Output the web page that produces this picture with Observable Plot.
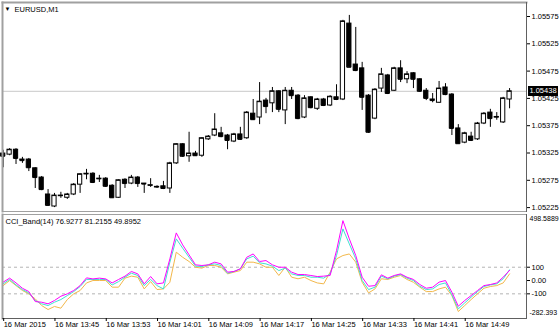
<!DOCTYPE html>
<html><head><meta charset="utf-8">
<script src="https://cdn.jsdelivr.net/npm/d3@7"></script>
<script src="https://cdn.jsdelivr.net/npm/@observablehq/plot@0.6"></script>
<style>
body{margin:0;background:#fff;}
#wrap{position:relative;width:560px;height:331px;overflow:hidden;font-family:"Liberation Sans",Arial,sans-serif;background:#fff;}
#wrap svg{position:absolute;left:0;}
#tag{position:absolute;left:528px;width:30px;height:10px;background:#000;color:#fff;font-size:7.5px;line-height:10px;text-align:center;}
</style></head><body><div id="wrap"></div>
<script>
const symbolLabel = "EURUSD,M1";
const indicatorName = "CCI_Band(14)";
const indicatorValues = [76.9277, 81.2155, 49.8952];

const opens = [1.05324,1.05322,1.05331,1.05313,1.05313,1.05297,1.05280,1.05249,1.05227,1.05246,
1.05243,1.05249,1.05267,1.05286,1.05287,1.05277,1.05278,1.05265,1.05243,1.05276,
1.05269,1.05280,1.05269,1.05265,1.05262,1.05264,1.05260,1.05306,1.05341,1.05319,
1.05324,1.05320,1.05350,1.05357,1.05361,1.05357,1.05346,1.05359,1.05352,1.05397,
1.05390,1.05421,1.05416,1.05438,1.05403,1.05439,1.05430,1.05390,1.05427,1.05406,
1.05423,1.05412,1.05427,1.05423,1.05562,1.05487,1.05480,1.05430,1.05388,1.05443,
1.05467,1.05439,1.05480,1.05460,1.05471,1.05460,1.05439,1.05423,1.05417,1.05445,
1.05432,1.05370,1.05344,1.05355,1.05350,1.05379,1.05399,1.05390,1.05381,1.05423];
const highs = [1.05330,1.05333,1.05333,1.05317,1.05315,1.05298,1.05282,1.05258,1.05251,1.05253,
1.05251,1.05269,1.05287,1.05295,1.05289,1.05284,1.05280,1.05267,1.05276,1.05278,
1.05284,1.05282,1.05269,1.05278,1.05265,1.05273,1.05308,1.05342,1.05342,1.05363,
1.05328,1.05353,1.05357,1.05397,1.05372,1.05359,1.05361,1.05372,1.05401,1.05423,
1.05454,1.05425,1.05445,1.05439,1.05445,1.05445,1.05432,1.05430,1.05428,1.05425,
1.05425,1.05430,1.05450,1.05568,1.05577,1.05555,1.05491,1.05432,1.05443,1.05480,
1.05469,1.05482,1.05494,1.05474,1.05472,1.05461,1.05443,1.05434,1.05456,1.05452,
1.05434,1.05377,1.05363,1.05363,1.05381,1.05399,1.05405,1.05399,1.05427,1.05443];
const lows = [1.05298,1.05320,1.05304,1.05306,1.05291,1.05260,1.05256,1.05229,1.05225,1.05242,
1.05240,1.05247,1.05251,1.05276,1.05269,1.05271,1.05262,1.05243,1.05242,1.05260,
1.05267,1.05262,1.05251,1.05262,1.05260,1.05258,1.05251,1.05304,1.05317,1.05308,
1.05319,1.05317,1.05348,1.05355,1.05353,1.05331,1.05344,1.05348,1.05350,1.05385,
1.05377,1.05397,1.05399,1.05399,1.05377,1.05423,1.05386,1.05388,1.05406,1.05403,
1.05410,1.05410,1.05421,1.05421,1.05482,1.05474,1.05403,1.05361,1.05386,1.05436,
1.05432,1.05438,1.05454,1.05452,1.05443,1.05436,1.05421,1.05417,1.05416,1.05430,
1.05357,1.05342,1.05342,1.05346,1.05348,1.05377,1.05372,1.05385,1.05379,1.05406];
const closes = [1.05319,1.05331,1.05315,1.05311,1.05298,1.05280,1.05258,1.05229,1.05247,1.05247,
1.05249,1.05267,1.05286,1.05287,1.05271,1.05278,1.05264,1.05243,1.05275,1.05269,
1.05280,1.05269,1.05268,1.05266,1.05263,1.05260,1.05306,1.05341,1.05319,1.05324,
1.05320,1.05352,1.05355,1.05368,1.05355,1.05348,1.05359,1.05350,1.05399,1.05386,
1.05419,1.05410,1.05438,1.05405,1.05439,1.05430,1.05388,1.05425,1.05408,1.05423,
1.05412,1.05428,1.05423,1.05566,1.05482,1.05476,1.05427,1.05363,1.05441,1.05469,
1.05434,1.05480,1.05460,1.05469,1.05460,1.05438,1.05425,1.05421,1.05443,1.05432,
1.05370,1.05342,1.05361,1.05348,1.05379,1.05397,1.05388,1.05391,1.05425,1.05438];

const cciMagenta = [-12,18,-18,-58,-83,-158,-163,-175,-150,-118,-100,-75,-38,20,12,18,12,-18,8,33,
68,50,-25,30,-25,-18,163,358,268,193,118,113,118,138,125,63,68,88,175,200,
143,150,118,100,100,63,45,45,38,30,33,38,225,450,313,188,25,-43,-38,43,
18,38,50,25,8,-30,-58,-50,-12,0,-88,-193,-150,-113,-75,-38,-30,-18,25,76.93];
const cciTurquoise = [-25,8,-33,-68,-93,-150,-175,-188,-163,-143,-113,-83,-45,8,8,8,8,-33,-8,25,
55,38,-38,8,-38,-63,138,313,243,175,108,105,118,125,113,55,68,88,163,183,
133,125,108,75,93,50,38,38,25,25,18,50,188,388,275,163,0,-68,-50,33,
13,33,45,18,0,-43,-68,-63,-30,-18,-108,-213,-168,-125,-83,-45,-33,-25,13,81.22];
const cciOrange = [-38,0,-38,-75,-100,-138,-188,-218,-195,-208,-143,-100,-75,-18,0,0,0,-50,-50,18,
33,25,-63,-8,-68,-63,-13,213,175,143,100,93,113,113,100,50,63,75,138,138,
125,100,100,38,100,25,13,25,0,-18,-25,63,163,188,200,138,-13,-93,-63,13,
8,25,38,8,-13,-50,-83,-83,-63,-50,-113,-233,-188,-143,-100,-58,-45,-38,-18,49.9];

const priceTicks = [1.05575,1.05525,1.05475,1.05425,1.05375,1.05325,1.05275,1.05225];
const cciTicks = [100, 0, -100];
const cciExtremes = [498.5889, -282.393];
const cciLevels = [100, -100];
const timeTickBars = [0, 8, 16, 24, 32, 40, 48, 56, 64, 72];
const timeTickLabels = ["16 Mar 2015","16 Mar 13:45","16 Mar 13:53","16 Mar 14:01","16 Mar 14:09",
  "16 Mar 14:17","16 Mar 14:25","16 Mar 14:33","16 Mar 14:41","16 Mar 14:49"];

const FONT = "Liberation Sans, Arial, sans-serif";
const bars = opens.map((o, i) => ({i, open: o, high: highs[i], low: lows[i], close: closes[i], up: closes[i] >= o}));
const lastClose = closes[closes.length - 1];
const xDef = {type: "linear", domain: [0, opens.length - 1], range: [2.7, 2.7 + 6.41 * (opens.length - 1)], axis: null};

const topPlot = Plot.plot({
  width: 560, height: 212, marginTop: 2, marginLeft: 2, marginRight: 34, marginBottom: 1,
  style: {fontFamily: FONT, fontSize: "7.5px", background: "transparent", overflow: "visible"},
  x: xDef,
  y: {domain: [1.05225, 1.05575], range: [207.1, 16], axis: null},
  marks: [
    Plot.ruleY([lastClose], {stroke: "#c8c8c8"}),
    Plot.ruleX(bars, {x: "i", y1: "low", y2: "high", stroke: "#000"}),
    Plot.rect(bars, {x1: d => d.i - 0.33, x2: d => d.i + 0.33, y1: "open", y2: "close",
      fill: d => d.up ? "#fff" : "#000", stroke: "#000", strokeWidth: 1}),
    Plot.ruleY(bars, {y: "close", x1: d => d.i - 0.33, x2: d => d.i + 0.33, stroke: "#000"}),
    Plot.frame({anchor: "top", stroke: "#a0a0a0", strokeWidth: 2}),
    Plot.frame({anchor: "left", stroke: "#a0a0a0", strokeWidth: 2}),
    Plot.frame({anchor: "bottom", stroke: "#a0a0a0"}),
    Plot.frame({anchor: "right", stroke: "#606060"}),
    Plot.axisY({anchor: "right", ticks: priceTicks, tickFormat: d => d.toFixed(5), tickSize: 3, tickPadding: 2,
      fontSize: 7.5, fill: "#000", stroke: "#000", label: null}),
    Plot.text([symbolLabel], {frameAnchor: "top-left", dx: 12, dy: 4, textAnchor: "start", lineAnchor: "top", fill: "#000", fontSize: 7.5}),
    Plot.text(["▼"], {frameAnchor: "top-left", dx: 2, dy: 4, textAnchor: "start", lineAnchor: "top", fill: "#000", fontSize: 6})
  ]
});
topPlot.style.top = "0px";

const cciRows = cciMagenta.map((v, i) => ({i, m: v, t: cciTurquoise[i], o: cciOrange[i]}));
const cciTitle = indicatorName + " " + indicatorValues.map(v => v.toFixed(4)).join(" ");
const botPlot = Plot.plot({
  width: 560, height: 118, marginTop: 1, marginLeft: 2, marginRight: 34, marginBottom: 13,
  style: {fontFamily: FONT, fontSize: "7.5px", background: "transparent", overflow: "visible"},
  x: xDef,
  y: {domain: [cciExtremes[1], cciExtremes[0]], range: [104.6, 0.7], axis: null},
  marks: [
    Plot.ruleY(cciLevels, {stroke: "#b4b4b4", strokeDasharray: "3,3"}),
    Plot.line(cciRows, {x: "i", y: "o", stroke: "#f2b84b", strokeWidth: 1}),
    Plot.line(cciRows, {x: "i", y: "t", stroke: "#40e0d0", strokeWidth: 1}),
    Plot.line(cciRows, {x: "i", y: "m", stroke: "#ff00ff", strokeWidth: 1}),
    Plot.frame({anchor: "top", stroke: "#a0a0a0"}),
    Plot.frame({anchor: "left", stroke: "#a0a0a0", strokeWidth: 2}),
    Plot.frame({anchor: "bottom", stroke: "#606060"}),
    Plot.frame({anchor: "right", stroke: "#606060"}),
    Plot.axisY({anchor: "right", ticks: cciTicks, tickFormat: d => d === 0 ? "0.00" : String(d), tickSize: 3, tickPadding: 2,
      fontSize: 7.5, fill: "#000", stroke: "#000", label: null}),
    Plot.text([cciExtremes[0]], {y: d => d, frameAnchor: "right", dx: 3, dy: 5, textAnchor: "start", text: d => d.toFixed(4), fill: "#000", fontSize: 7}),
    Plot.text([cciExtremes[1]], {y: d => d, frameAnchor: "right", dx: 3, dy: -5, textAnchor: "start", text: d => d.toFixed(3), fill: "#000", fontSize: 7}),
    Plot.axisX({anchor: "bottom", ticks: timeTickBars, tickFormat: (d) => timeTickLabels[timeTickBars.indexOf(d)],
      tickSize: 3, tickPadding: 0, textAnchor: "start", dx: 0.5, fontSize: 7.5, fill: "#000", stroke: "#000", label: null}),
    Plot.text([cciTitle], {frameAnchor: "top-left", dx: 3, dy: 4, textAnchor: "start", lineAnchor: "top", fill: "#000", fontSize: 7.5})
  ]
});
botPlot.style.top = "213px";

const wrap = document.getElementById("wrap");
wrap.appendChild(topPlot);
wrap.appendChild(botPlot);
const tag = document.createElement("div");
tag.id = "tag";
tag.textContent = lastClose.toFixed(5);
tag.style.top = (topPlot.scale("y").apply(lastClose) - 5) + "px";
wrap.appendChild(tag);
</script></body></html>
